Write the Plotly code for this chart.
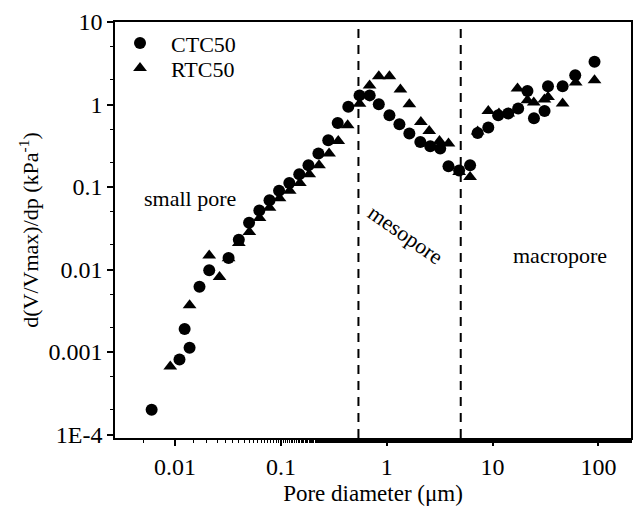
import plotly.graph_objects as go

# ---- data ----
ctc_x = [0.006, 0.011, 0.0123, 0.0137, 0.017, 0.021, 0.032, 0.040, 0.050, 0.0625,
         0.078, 0.096, 0.12, 0.149, 0.182, 0.226, 0.28, 0.344, 0.433, 0.553,
         0.69, 0.841, 1.06, 1.317, 1.635, 2.075, 2.577, 3.20, 3.83, 4.83,
         6.13, 7.225, 9.11, 11.31, 14.05, 17.45, 21.35, 24.6, 31.0, 33.4,
         45.9, 60.4, 91.9]
ctc_y = [2.0e-4, 8.1e-4, 1.9e-3, 1.13e-3, 6.2e-3, 9.8e-3, 0.0138, 0.023, 0.037, 0.052,
         0.069, 0.09, 0.112, 0.143, 0.183, 0.254, 0.368, 0.597, 0.94, 1.29,
         1.29, 1.006, 0.74, 0.575, 0.444, 0.351, 0.311, 0.292, 0.178, 0.159,
         0.183, 0.451, 0.525, 0.74, 0.776, 0.892, 1.457, 0.68, 0.834, 1.662,
         1.662, 2.26, 3.3]

rtc_x = [0.009, 0.0137, 0.021, 0.0263, 0.032, 0.040, 0.0503, 0.0628, 0.078, 0.097,
         0.121, 0.151, 0.185, 0.229, 0.285, 0.348, 0.427, 0.553, 0.688, 0.841,
         1.06, 1.346, 1.635, 2.10, 2.52, 3.15, 3.83, 4.83, 6.13, 7.225,
         9.11, 11.48, 14.05, 17.2, 21.35, 24.5, 30.9, 33.4, 45.9, 61.0,
         91.9]
rtc_y = [6.7e-4, 3.7e-3, 0.0148, 0.0081, 0.0137, 0.021, 0.0285, 0.042, 0.056, 0.073,
         0.09, 0.112, 0.143, 0.183, 0.254, 0.361, 0.56, 1.02, 1.70, 2.20,
         2.20, 1.516, 1.006, 0.614, 0.477, 0.361, 0.336, 0.152, 0.132, 0.47,
         0.834, 0.776, 0.776, 1.558, 1.124, 1.06, 1.147, 1.233, 1.03, 1.85,
         1.965]

boundaries = [0.54, 5.0]  # pore-class boundaries (µm)

x_tickvals = [0.01, 0.1, 1, 10, 100]
x_ticktext = ["0.01", "0.1", "1", "10", "100"]
y_tickvals = [1e-4, 1e-3, 1e-2, 1e-1, 1, 10]
y_ticktext = ["1E-4", "0.001", "0.01", "0.1", "1", "10"]

x_range_log = [-2.568, 2.308]
y_range_log = [-4.042, 1.0]

FONT = "Liberation Serif"
FS = 22
TICKFS = 24

fig = go.Figure()
fig.add_trace(go.Scatter(x=ctc_x, y=ctc_y, mode="markers", name="CTC50", legend="legend",
                         marker=dict(symbol="circle", size=12, color="black")))
fig.add_trace(go.Scatter(x=rtc_x, y=rtc_y, mode="markers", name="RTC50", legend="legend2",
                         marker=dict(symbol="triangle-up", size=12, color="black")))
for b in boundaries:
    fig.add_trace(go.Scatter(x=[b, b], y=[10 ** y_range_log[0], 10 ** y_range_log[1]],
                             mode="lines", showlegend=False, hoverinfo="skip",
                             line=dict(color="black", width=2, dash="9px,7px")))

axis_common = dict(
    type="log", showline=True, linecolor="black", linewidth=1.5, mirror=True,
    ticks="outside", ticklen=6, tickwidth=1.5, tickcolor="black",
    showgrid=False, zeroline=False,
    tickfont=dict(family=FONT, size=TICKFS, color="black"),
    minor=dict(ticks="outside", ticklen=3, tickwidth=1, tickcolor="black", showgrid=False),
)

legend_common = dict(xanchor="left", yanchor="middle", bgcolor="rgba(0,0,0,0)",
                     font=dict(family=FONT, size=FS), itemwidth=52)

fig.update_layout(
    width=635, height=516,
    margin=dict(l=115, r=2, t=22, b=78),
    paper_bgcolor="white", plot_bgcolor="white",
    font=dict(family=FONT, size=FS, color="black"),
    xaxis=dict(axis_common, range=x_range_log, tickvals=x_tickvals, ticktext=x_ticktext,
               title=dict(text="Pore diameter (μm)", font=dict(family=FONT, size=23), standoff=6)),
    yaxis=dict(axis_common, range=y_range_log, tickvals=y_tickvals, ticktext=y_ticktext,
               title=dict(text="d(V/Vmax)/dp (kPa<sup>-1</sup>)", font=dict(family=FONT, size=FS), standoff=4)),
    legend=dict(legend_common, x=-0.0116, y=0.949),
    legend2=dict(legend_common, x=-0.0116, y=0.889),
    showlegend=True,
    annotations=[
        dict(text="small pore", xref="paper", yref="paper", x=0.145, y=0.576,
             xanchor="center", yanchor="middle",
             showarrow=False, font=dict(family=FONT, size=FS)),
        dict(text="mesopore", xref="paper", yref="paper", x=0.563, y=0.49,
             xanchor="center", yanchor="middle",
             showarrow=False, textangle=35, font=dict(family=FONT, size=FS)),
        dict(text="macropore", xref="paper", yref="paper", x=0.862, y=0.439,
             xanchor="center", yanchor="middle",
             showarrow=False, font=dict(family=FONT, size=FS)),
    ],
)

fig.write_html("out.html")
